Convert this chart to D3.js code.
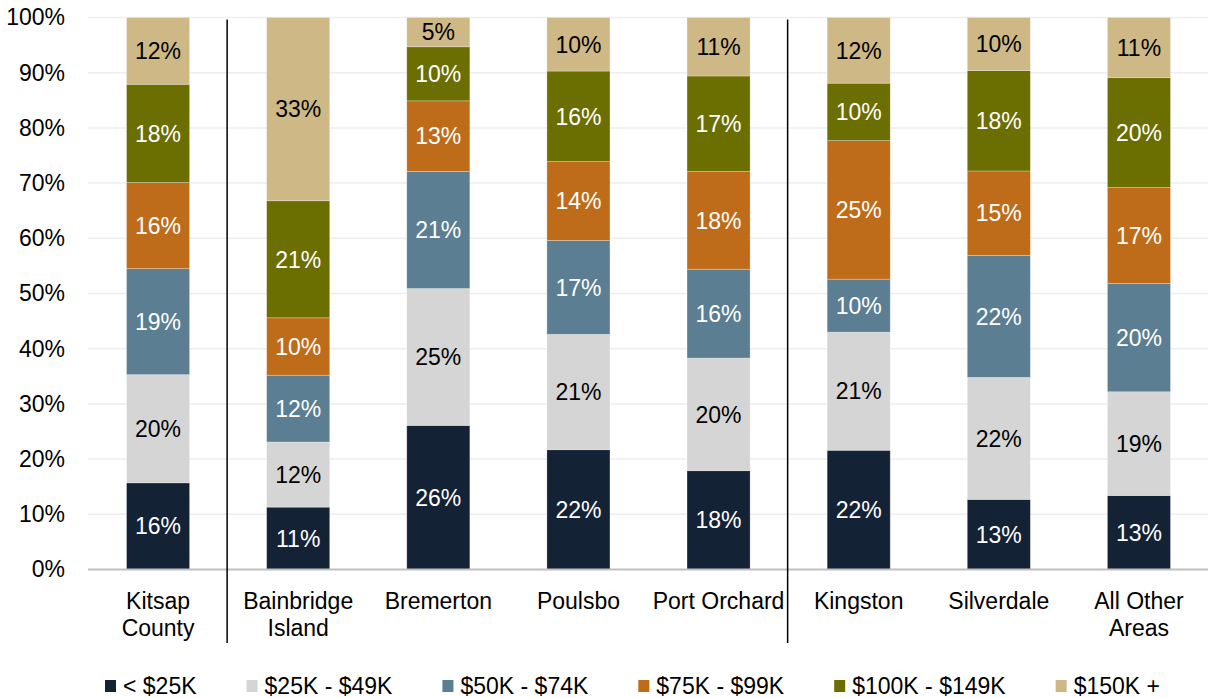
<!DOCTYPE html>
<html>
<head>
<meta charset="utf-8">
<script src="https://cdn.jsdelivr.net/npm/d3@7"></script>
<style>
  body { margin: 0; background: #fff; }
  svg { display: block; font-family: "Liberation Sans", Arial, sans-serif; }
</style>
</head>
<body>
<svg id="chart"></svg>
<script>
// household income share by area (percent)
const categories = ["Kitsap County", "Bainbridge Island", "Bremerton", "Poulsbo",
  "Port Orchard", "Kingston", "Silverdale", "All Other Areas"];
const tickLines = [["Kitsap", "County"], ["Bainbridge", "Island"], ["Bremerton"], ["Poulsbo"],
  ["Port Orchard"], ["Kingston"], ["Silverdale"], ["All Other", "Areas"]];

const seriesNames = ["< $25K", "$25K - $49K", "$50K - $74K", "$75K - $99K", "$100K - $149K", "$150K +"];
const under25   = [15.7, 11.3, 26.1, 21.7, 17.9, 21.6, 12.7, 13.4];
const k25to49   = [19.6, 11.8, 24.8, 20.9, 20.4, 21.4, 22.1, 18.8];
const k50to74   = [19.2, 12.1, 21.2, 17.0, 16.1,  9.6, 22.1, 19.6];
const k75to99   = [15.6, 10.4, 12.8, 14.3, 17.7, 25.1, 15.3, 17.4];
const k100to149 = [17.8, 21.2,  9.8, 16.4, 17.3, 10.4, 18.2, 19.9];
const k150plus  = [12.1, 33.2,  5.3,  9.7, 10.6, 11.9,  9.6, 10.9];
const colors = ["#142236", "#d4d5d4", "#5b7e92", "#bf6c1a", "#6b6e00", "#ceb886"];

const yTicks = [0, 10, 20, 30, 40, 50, 60, 70, 80, 90, 100];
// dividers after these categories
const dividersAfter = ["Kitsap County", "Port Orchard"];

const width = 1208, height = 698;
const margin = { top: 17.5, right: 0, bottom: 128.5, left: 88 };
const fontSize = 23;

const allSeries = [under25, k25to49, k50to74, k75to99, k100to149, k150plus];
const rows = categories.map((c, i) => {
  const r = { cat: c };
  seriesNames.forEach((s, j) => r[s] = allSeries[j][i]);
  return r;
});

const stacked = d3.stack().keys(seriesNames)(rows);

const x = d3.scaleBand()
  .domain(categories)
  .range([margin.left, width - margin.right + 1])
  .paddingInner(0.55)
  .paddingOuter(0.275);

const y = d3.scaleLinear()
  .domain([0, 100])
  .range([height - margin.bottom, margin.top]);

const color = d3.scaleOrdinal().domain(seriesNames).range(colors);

const svg = d3.select("#chart")
  .attr("width", width)
  .attr("height", height);

// gridlines
svg.append("g")
  .selectAll("line")
  .data(yTicks.filter(d => d > 0))
  .join("line")
  .attr("x1", margin.left)
  .attr("x2", width)
  .attr("y1", d => y(d))
  .attr("y2", d => y(d))
  .attr("stroke", "#eeeeee")
  .attr("stroke-width", 1.5);

// y axis labels
const yAxis = d3.axisLeft(y)
  .tickValues(yTicks)
  .tickFormat(d => d + "%")
  .tickSize(0)
  .tickPadding(23);

svg.append("g")
  .attr("transform", `translate(${margin.left},0)`)
  .call(yAxis)
  .call(g => g.select(".domain").remove())
  .call(g => g.selectAll("text")
    .attr("font-size", fontSize)
    .attr("font-family", "Liberation Sans, Arial, sans-serif")
    .attr("fill", "#000"));

// bars
const layer = svg.append("g")
  .selectAll("g")
  .data(stacked)
  .join("g")
  .attr("fill", d => color(d.key));

layer.selectAll("rect")
  .data(d => d)
  .join("rect")
  .attr("x", d => x(d.data.cat))
  .attr("width", x.bandwidth())
  .attr("y", d => y(d[1]))
  .attr("height", d => y(d[0]) - y(d[1]))
  .attr("stroke", "#ffffff")
  .attr("stroke-opacity", 0.35)
  .attr("stroke-width", 0.75);

// segment labels
stacked.forEach(s => {
  const light = d3.hsl(color(s.key)).l > 0.6;
  svg.append("g")
    .selectAll("text")
    .data(s)
    .join("text")
    .attr("x", d => x(d.data.cat) + x.bandwidth() / 2)
    .attr("y", d => (y(d[0]) + y(d[1])) / 2)
    .attr("dy", "0.36em")
    .attr("text-anchor", "middle")
    .attr("font-size", fontSize)
    .attr("fill", light ? "#000" : "#fff")
    .text(d => Math.round(d[1] - d[0]) + "%");
});

// baseline
svg.append("line")
  .attr("x1", margin.left)
  .attr("x2", width)
  .attr("y1", y(0))
  .attr("y2", y(0))
  .attr("stroke", "#bfbfbf")
  .attr("stroke-width", 2);

// group dividers
const step = x.step();
svg.append("g")
  .selectAll("line")
  .data(dividersAfter)
  .join("line")
  .attr("x1", d => x(d) + x.bandwidth() / 2 + step / 2 - 1)
  .attr("x2", d => x(d) + x.bandwidth() / 2 + step / 2 - 1)
  .attr("y1", y(100) + 2)
  .attr("y2", 643)
  .attr("stroke", "#000")
  .attr("stroke-width", 1.5);

// x axis labels
const xLab = svg.append("g")
  .selectAll("text")
  .data(categories)
  .join("text")
  .attr("x", d => x(d) + x.bandwidth() / 2)
  .attr("y", 609)
  .attr("text-anchor", "middle")
  .attr("font-size", fontSize)
  .attr("fill", "#000");

xLab.selectAll("tspan")
  .data((d, i) => tickLines[i])
  .join("tspan")
  .attr("x", function () { return d3.select(this.parentNode).attr("x"); })
  .attr("dy", (d, i) => i === 0 ? 0 : 27)
  .text(d => d);

// legend
const legend = svg.append("g");
const items = legend.selectAll("g")
  .data(seriesNames)
  .join("g");

items.append("rect")
  .attr("width", 11)
  .attr("height", 12)
  .attr("y", 680)
  .attr("fill", d => color(d));

items.append("text")
  .attr("x", 18)
  .attr("y", 694)
  .attr("font-size", fontSize)
  .attr("fill", "#000")
  .text(d => d);

// spread legend items across the same span as the original
const legendLeft = 105, legendRight = 1160;
const widths = [];
items.each(function () {
  widths.push(18 + this.querySelector("text").getComputedTextLength());
});
const gap = (legendRight - legendLeft - d3.sum(widths)) / (widths.length - 1);
let cx = legendLeft;
const offsets = widths.map(w => { const o = cx; cx += w + gap; return o; });
items.attr("transform", (d, i) => `translate(${offsets[i]},0)`);
</script>
</body>
</html>
